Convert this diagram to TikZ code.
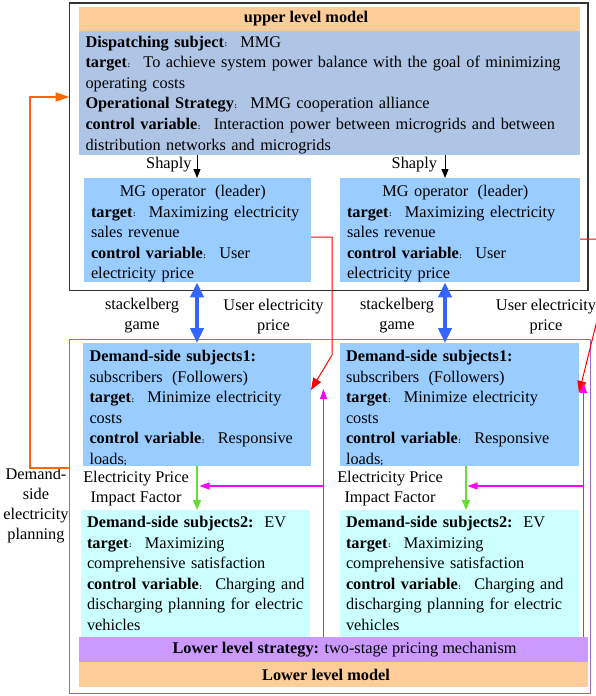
\documentclass[tikz,border=0pt]{standalone}
\usepackage{fontspec}
\setmainfont{Liberation Serif}
\usetikzlibrary{arrows.meta}
\definecolor{cPeach}{RGB}{252,204,153}
\definecolor{cSlate}{RGB}{175,197,229}
\definecolor{cMG}{RGB}{153,204,255}
\definecolor{cEV}{RGB}{204,255,255}
\definecolor{cStrat}{RGB}{204,153,255}
\definecolor{cPurple}{RGB}{153,102,204}
\definecolor{cBlue}{RGB}{51,102,255}
\definecolor{cGreen}{RGB}{102,221,51}
\definecolor{cMag}{RGB}{255,0,255}
\definecolor{cOrange}{RGB}{255,102,0}
\newcommand\fcol{\makebox[1em][l]{\hspace{0.5pt}\raisebox{0.3pt}{\fontsize{8}{8}\selectfont\bfseries :}}}
\newcommand\bfcol{\makebox[1em][l]{\textbf{:}}}
\newcommand\flp{\makebox[0.9em][r]{(}}
\newcommand\frp{\makebox[0.9em][l]{)}}
\newcommand\fsemi{\makebox[0.5em][l]{\fontsize{9}{9}\selectfont\bfseries ;}}
\newcommand\toprule[1]{\rule{0pt}{#1}}
\tikzset{
  outerbox/.style={inner sep=0pt, outer sep=0pt, anchor=north west},
  fillbox/.style={draw=none, inner sep=0pt, outer sep=0pt, anchor=north west, align=left},
  barbox/.style={draw=none, inner sep=0pt, outer sep=0pt, anchor=north west, align=center},
  lbl/.style={inner sep=0pt, outer sep=0pt, align=center, font=\fontsize{16.3}{19.5}\selectfont},
  blkarrow/.style={draw=black, line width=0.9pt, -{Triangle[length=9pt,width=7pt]}},
  bluearrow/.style={draw=cBlue, line width=4pt, {Triangle[length=15pt,width=13pt]}-{Triangle[length=15pt,width=13pt]}},
  redarrow/.style={draw=red, line width=1pt, -{Triangle[length=12pt,width=9pt]}},
  magarrow/.style={draw=cMag, line width=1.2pt, -{Triangle[length=10pt,width=7pt]}},
  grnarrow/.style={draw=cGreen, line width=1.5pt, -{Triangle[length=10pt,width=8pt]}},
  orgarrow/.style={draw=cOrange, line width=1.5pt, -{Triangle[length=14pt,width=9pt]}}
}
\begin{document}
\begin{tikzpicture}[x=1pt,y=-1pt,font=\fontsize{16.3}{20.6}\selectfont]
\useasboundingbox (0,0) rectangle (596,696);
\clip (0,0) rectangle (596,696);

% outer frames
\node[outerbox, draw=black!80, line width=1.3pt, minimum width=518.5pt, minimum height=287.5pt] (upper) at (69.5,3) {};
\node[outerbox, draw=cPurple, line width=1pt, minimum width=520.5pt, minimum height=354pt] (lower) at (69.5,339) {};

% upper level
\node[barbox, fill=cPeach, minimum width=501pt, minimum height=24pt] (upbar) at (79,6.7) {\textbf{upper level model}\hspace*{47pt}};
\node[fillbox, fill=cSlate, minimum width=501pt, minimum height=124pt, text width=488pt, inner xsep=6.5pt] (disp) at (79,30.7) {%
\toprule{15.5pt}\mbox{\textbf{Dispatching subject}\fcol MMG}\\
\mbox{\textbf{target}\fcol To achieve system power balance with the goal of minimizing}\\
\mbox{operating costs}\\
\mbox{\textbf{Operational Strategy}\fcol MMG cooperation alliance}\\
\mbox{\textbf{control variable}\fcol Interaction power between microgrids and between}\\
\mbox{distribution networks and microgrids}};

\node[fillbox, fill=cMG, minimum width=227pt, minimum height=101pt, text width=213pt, inner xsep=7pt] (mgL) at (84,178) {%
\toprule{18.5pt}\makebox[\hsize][c]{MG operator\flp leader\frp}\\
\mbox{\textbf{target}\fcol Maximizing electricity}\\
\mbox{sales revenue}\\
\mbox{\textbf{control variable}\fcol User}\\
\mbox{electricity price}};
\node[fillbox, fill=cMG, minimum width=240pt, minimum height=101pt, text width=226pt, inner xsep=7pt] (mgR) at (340,178) {%
\toprule{18.5pt}\makebox[\hsize][c]{MG operator\flp leader\frp}\\
\mbox{\textbf{target}\fcol Maximizing electricity}\\
\mbox{sales revenue}\\
\mbox{\textbf{control variable}\fcol User}\\
\mbox{electricity price}};

% lower level
\node[fillbox, fill=cMG, minimum width=228pt, minimum height=120pt, text width=215pt, inner xsep=6.5pt] (dsL) at (83,343) {%
\toprule{18.5pt}\mbox{\textbf{Demand-side subjects1}\bfcol}\\
\mbox{subscribers\flp Followers\frp}\\
\mbox{\textbf{target}\fcol Minimize electricity}\\
\mbox{costs}\\
\mbox{\textbf{control variable}\fcol Responsive}\\
\mbox{loads\fsemi}};
\node[fillbox, fill=cMG, minimum width=239.5pt, minimum height=120pt, text width=226.5pt, inner xsep=6.5pt] (dsR) at (339.5,343) {%
\toprule{18.5pt}\mbox{\textbf{Demand-side subjects1}\bfcol}\\
\mbox{subscribers\flp Followers\frp}\\
\mbox{\textbf{target}\fcol Minimize electricity}\\
\mbox{costs}\\
\mbox{\textbf{control variable}\fcol Responsive}\\
\mbox{loads\fsemi}};

\node[fillbox, fill=cEV, minimum width=229pt, minimum height=127pt, text width=217pt, inner xsep=6pt] (evL) at (81,510) {%
\mbox{\textbf{Demand-side subjects2}\bfcol EV}\\
\mbox{\textbf{target}\fcol Maximizing}\\
\mbox{comprehensive satisfaction}\\
\mbox{\textbf{control variable}\fcol Charging and}\\
\mbox{discharging planning for electric}\\
\mbox{vehicles}};
\node[fillbox, fill=cEV, minimum width=239.5pt, minimum height=127pt, text width=226.5pt, inner xsep=6.5pt] (evR) at (339.5,510) {%
\mbox{\textbf{Demand-side subjects2}\bfcol EV}\\
\mbox{\textbf{target}\fcol Maximizing}\\
\mbox{comprehensive satisfaction}\\
\mbox{\textbf{control variable}\fcol Charging and}\\
\mbox{discharging planning for electric}\\
\mbox{vehicles}};

\node[barbox, fill=cStrat, minimum width=509pt, minimum height=25pt] (strat) at (79,637) {\hspace*{22pt}\textbf{Lower level strategy:} two-stage pricing mechanism};
\node[barbox, fill=cPeach, minimum width=509pt, minimum height=25pt] (lowbar) at (79,662) {\textbf{Lower level model}\hspace*{15pt}};

% labels
\node[lbl, anchor=east] (shL) at (191.5,165) {Shaply};
\node[lbl, anchor=east] (shR) at (437,165) {Shaply};
\node[lbl] (stkL) at (142,315.5) {stackelberg\\game};
\node[lbl] (uepL) at (273.5,316.5) {User electricity\\price};
\node[lbl] (stkR) at (397,315.5) {stackelberg\\game};
\node[lbl] (uepR) at (546,316.5) {User electricity\\price};
\node[lbl, font=\fontsize{16.3}{20.2}\selectfont] (epL) at (136,488.5) {Electricity Price\\Impact Factor};
\node[lbl, font=\fontsize{16.3}{20.2}\selectfont] (epR) at (390,488.5) {Electricity Price\\Impact Factor};
\node[lbl, font=\fontsize{16.3}{20}\selectfont] (dsep) at (36,506) {Demand-\\side\\electricity\\planning};

% column coordinates
\coordinate (xL) at (197,0);
\coordinate (xR) at (445,0);
\coordinate (gR) at (466,0);

% Shaply arrows
\draw[blkarrow] (disp.south -| xL) -- (mgL.north -| xL);
\draw[blkarrow] (disp.south -| xR) -- (mgR.north -| xR);

% stackelberg double arrows
\draw[bluearrow] (mgL.south -| xL) -- (dsL.north -| xL);
\draw[bluearrow] (mgR.south -| xR) -- (dsR.north -| xR);

% green arrows
\draw[grnarrow] (dsL.south -| xL) -- (evL.north -| xL);
\draw[grnarrow] (dsR.south -| gR) -- (evR.north -| gR);

% red arrows (user electricity price)
\coordinate (rL1) at (332,237);
\coordinate (rL2) at (332,355);
\coordinate (rLt) at (0,390);
\draw[redarrow] (mgL.east |- rL1) -- (rL1) -- (rL2) -- (dsL.east |- rLt);
\coordinate (rR1) at (612,239);
\coordinate (rR2) at (612,260);
\coordinate (rRt) at (0,393);
\draw[redarrow] (mgR.east |- rR1) -- (rR1) -- (rR2) -- (dsR.east |- rRt);

% magenta arrows
\coordinate (mLtop) at (323.5,389);
\coordinate (mLmid) at (323.5,486);
\coordinate (mLtip) at (199.5,486);
\draw[magarrow] (strat.north -| mLtop) -- (mLtop);
\draw[magarrow] (mLmid) -- (mLtip);
\coordinate (mRtop) at (583.5,383);
\coordinate (mRmid) at (583.5,486);
\coordinate (mRtip) at (467.5,486);
\draw[magarrow] (strat.north -| mRtop) -- (mRtop);
\draw[magarrow] (mRmid) -- (mRtip);

% orange feedback arrow
\coordinate (oB) at (30,468);
\coordinate (oT) at (30,97);
\draw[orgarrow] (lower.west |- oB) -- (oB) -- (oT) -- (upper.west |- oT);
\end{tikzpicture}
\end{document}
